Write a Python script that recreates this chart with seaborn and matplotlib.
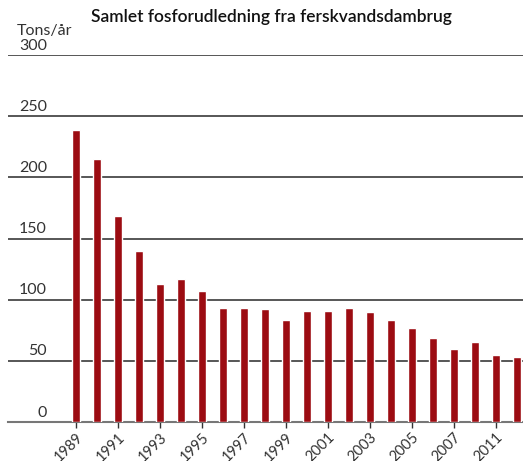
import numpy as np
import pandas as pd
import seaborn as sns
import matplotlib.pyplot as plt

# Data
years = [str(y) for y in range(1989, 2011)]
udledning = [239, 215, 168, 140, 113, 117, 107, 93, 93, 92, 83, 91,
             91, 93, 90, 83, 77, 69, 60, 65, 55, 53]
tick_pos = [0, 2, 4, 6, 8, 10, 12, 14, 16, 18, 20]
tick_labels = ["1989", "1991", "1993", "1995", "1997", "1999",
               "2001", "2003", "2005", "2007", "2011"]
y_ticks = [0, 50, 100, 150, 200, 250, 300]

sns.set_style("white")
plt.rcParams['font.family'] = ['Lato', 'DejaVu Sans']

df = pd.DataFrame({"aar": years, "tons": udledning})

fig = plt.figure(figsize=(5.23, 4.61), dpi=100)
ax = fig.add_axes([8 / 523, 39 / 461, 515 / 523, 367 / 461])

sns.barplot(data=df, x="aar", y="tons", color="#9c0c12", saturation=1,
            width=0.42, ax=ax, zorder=3)

ax.set_ylim(0, 300)
ax.set_xlim(-3.24, 21.29)
ax.set_xlabel("")
ax.set_ylabel("")

# Horizontal gridlines
for v in y_ticks[1:]:
    ax.axhline(v, color="#3a3a3a", lw=1.2, zorder=1)
ax.set_yticks([])

# Y labels sit just above each line, right aligned
trans = ax.get_yaxis_transform()
for v in y_ticks:
    ax.text(39 / 515, v + 2, str(v), transform=trans,
            ha="right", va="bottom", fontsize=11.5, color="#333333")

for s in ["top", "right", "left"]:
    ax.spines[s].set_visible(False)
ax.spines["bottom"].set_color("#777777")
ax.spines["bottom"].set_linewidth(1.5)

ax.set_xticks(tick_pos)
ax.set_xticklabels(tick_labels, rotation=45, ha="right", rotation_mode="anchor",
                   fontsize=10.5, color="#333333")
ax.tick_params(axis="x", length=4, width=1, color="#333333", pad=2, bottom=True)

fig.text(271 / 523, 1 - 17 / 461, "Samlet fosforudledning fra ferskvandsdambrug",
         ha="center", va="center", fontsize=12.5, fontweight="semibold", color="#111111")
fig.text(17 / 523, 1 - 31 / 461, "Tons/år", ha="left", va="center",
         fontsize=11.5, color="#333333")

fig.savefig("out.png", dpi=100)
